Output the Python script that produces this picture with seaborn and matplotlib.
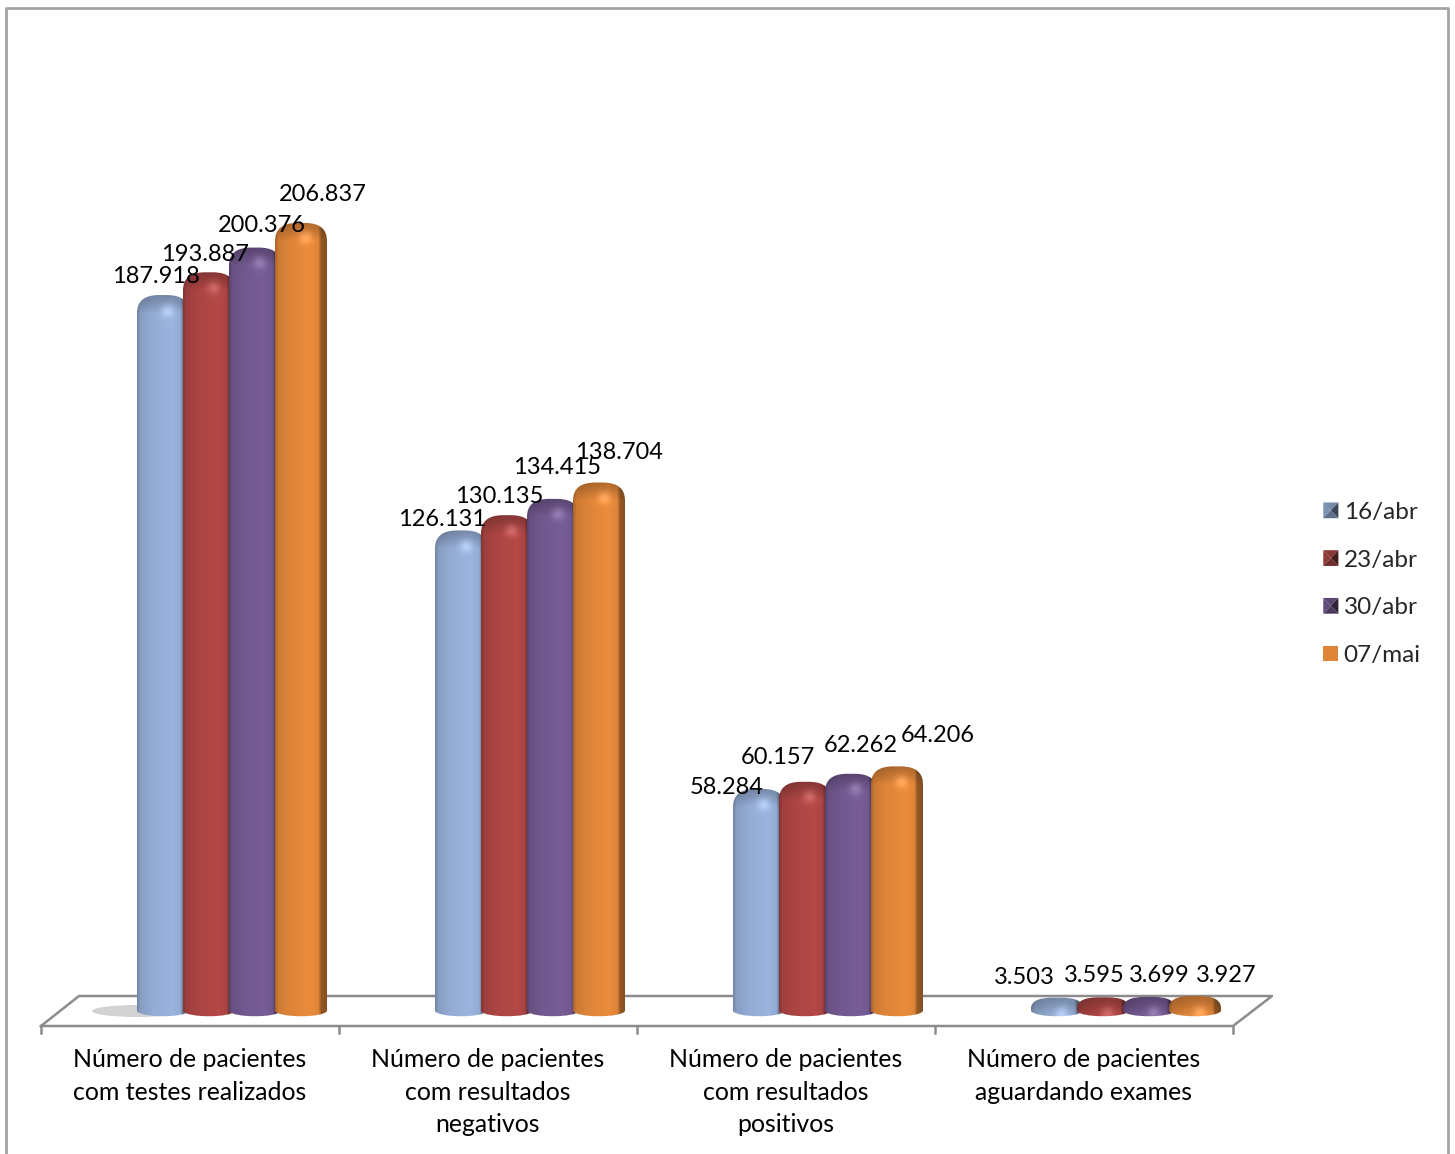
import numpy as np
import pandas as pd
import matplotlib
matplotlib.use('Agg')
import matplotlib.pyplot as plt
import seaborn as sns
from matplotlib.patches import Patch, PathPatch, Polygon, Ellipse
from matplotlib.path import Path
from matplotlib.legend_handler import HandlerBase

categories = ['Número de pacientes\ncom testes realizados',
              'Número de pacientes\ncom resultados\nnegativos',
              'Número de pacientes\ncom resultados\npositivos',
              'Número de pacientes\naguardando exames']
dates = ['16/abr', '23/abr', '30/abr', '07/mai']
v_16abr = [187918, 126131, 58284, 3503]
v_23abr = [193887, 130135, 60157, 3595]
v_30abr = [200376, 134415, 62262, 3699]
v_07mai = [206837, 138704, 64206, 3927]

colors = ['#94acd4', '#ab4543', '#72588f', '#df8539']

# centro dos rotulos em pixels da imagem (posicao manual, como no original)
label_px = [[(156, 276), (442, 519), (727, 787), (1024, 978)],
            [(205, 254), (499, 496), (778, 758), (1094, 975)],
            [(262, 225), (557, 468), (861, 745), (1159, 975)],
            [(323, 194), (619, 452), (938, 735), (1226, 976)]]

W, H = 1455, 1154
BASE, SCALE, X0, STEP = 1011, 0.00381, 229, 298
FS_VAL = 17
FS_CAT = 17.9
FS_LEG = 17.5


def dx(p):
    return (p - X0) / STEP


def dy(p):
    return (BASE - p) / SCALE


def line(ax, xs, ys, color='#8c8c8c', lw=1.8, z=1):
    ax.plot([dx(p) for p in xs], [dy(p) for p in ys], color=color, lw=lw, zorder=z,
            solid_capstyle='projecting')


def to_rgb(c):
    return np.array(matplotlib.colors.to_rgb(c))


def cylinder(ax, bar, color, z):
    # troca a barra reta do seaborn por um cilindro com topo arredondado
    x0 = bar.get_x()
    x1 = x0 + bar.get_width() + 6 / STEP
    top = bar.get_height()
    hpx = top * SCALE
    rx = 22 / STEP
    ry = dy(BASE - min(18, max(hpx * 0.8, 10)))
    drop = dy(BASE - 7)
    verts = [(x0, 0), (x0, top - ry), (x0, top), (x0 + rx, top), (x1 - rx, top), (x1, top),
             (x1, top - ry), (x1, 0), ((x0 + x1) / 2 + rx, -drop), ((x0 + x1) / 2 - rx, -drop),
             (x0, 0), (x0, 0)]
    codes = [Path.MOVETO, Path.LINETO, Path.CURVE3, Path.CURVE3, Path.LINETO, Path.CURVE3,
             Path.CURVE3, Path.LINETO, Path.CURVE4, Path.CURVE4, Path.CURVE4, Path.CLOSEPOLY]
    clip = PathPatch(Path(verts, codes), fc='none', ec='none', zorder=z)
    ax.add_patch(clip)

    ny = max(int(hpx) + 7, 2)
    nx = 52
    fx = np.linspace(0, 1, nx)
    prof = np.interp(fx, [0, 0.06, 0.3, 0.68, 0.84, 0.9, 1], [0.78, 0.92, 1.0, 1.05, 1.0, 0.66, 0.6])
    ypx = np.arange(ny)[:, None]
    cap = np.interp(ypx, [0, 7, 18], [0.76, 0.84, 1.0])
    img = prof[None, :] * cap
    img = img[:, :, None] * to_rgb(color)
    glow = 0.14 * np.exp(-((np.arange(nx) - 30) ** 2) / 40.0)[None, :] * np.exp(-((ypx - 15) ** 2) / 40.0)
    img = np.clip(img + glow[:, :, None], 0, 1)
    im = ax.imshow(img, extent=(x0, x1, -drop, top), aspect='auto', zorder=z, interpolation='bilinear')
    im.set_clip_path(clip)


class BevelHandler(HandlerBase):
    def create_artists(self, legend, orig, xd, yd, width, height, fontsize, trans):
        x0, y0, x1, y1 = -xd, -yd, width - xd, height - yd
        c = to_rgb(orig.get_facecolor()[:3])
        if orig.get_label() == 'flat':
            tri = [([(x0, y0), (x1, y0), (x1, y1), (x0, y1)], 1.0)]
        else:
            m = ((x0 + x1) / 2, (y0 + y1) / 2)
            tri = [([(x0, y0), m, (x0, y1)], 0.85), ([(x0, y1), m, (x1, y1)], 0.8),
                   ([(x1, y1), m, (x1, y0)], 0.4), ([(x1, y0), m, (x0, y0)], 0.65)]
        return [Polygon(p, closed=True, fc=np.clip(c * f, 0, 1), ec='none', transform=trans) for p, f in tri]


df = pd.DataFrame({'categoria': categories * 4,
                   'data': np.repeat(dates, 4),
                   'valor': v_16abr + v_23abr + v_30abr + v_07mai})

sns.set_theme(style='white')
plt.rcParams['font.family'] = ['Lato', 'DejaVu Sans']

fig = plt.figure(figsize=(W / 100, H / 100), dpi=100)
ax = fig.add_axes([0, 0, 1, 1])
sns.barplot(data=df, x='categoria', y='valor', hue='data', hue_order=dates, palette=colors,
            width=184 / STEP, saturation=1, legend=False, ax=ax)

# chao do grafico 3D e moldura
line(ax, [41, 79, 1272, 1233, 41], [1026, 996, 996, 1026, 1026])
for i in range(5):
    line(ax, [41 + i * STEP] * 2, [1026, 1033])
line(ax, [6, 6, 1448, 1448], [1154, 8, 8, 1154], color='#a3a3a3', lw=2)

ax.add_patch(Ellipse((dx(137), dy(1011)), 90 / STEP, 12 / SCALE, fc='#d2d2d2', ec='none', zorder=2))

z = 3
for g in range(4):
    bars = sorted([c[g] for c in ax.containers], key=lambda b: b.get_x())
    for s, bar in enumerate(bars):
        cylinder(ax, bar, colors[s], z)
        bar.set_visible(False)
        z += 1

series = [v_16abr, v_23abr, v_30abr, v_07mai]
for s, vals in enumerate(series):
    for g, v in enumerate(vals):
        x, y = label_px[s][g]
        ax.text(dx(x), dy(y), f'{v:,}'.replace(',', '.'), ha='center', va='center',
                fontsize=FS_VAL, color='black', zorder=50)

for i, name in enumerate(categories):
    ax.text(dx(189.5 + i * STEP), dy(1048), name, ha='center', va='top', fontsize=FS_CAT,
            color='black', linespacing=1.5, zorder=50)

handles = [Patch(facecolor=c, label='flat' if d == '07/mai' else d) for c, d in zip(colors, dates)]
leg = ax.legend(handles, dates, handler_map={Patch: BevelHandler()}, frameon=False, fontsize=FS_LEG,
                loc='center left', bbox_to_anchor=(1316 / W, 1 - 584 / H), labelspacing=1.1,
                handlelength=0.62, handleheight=0.62, handletextpad=0.22, borderaxespad=0, borderpad=0.3)

ax.set_xlim(dx(0), dx(W))
ax.set_ylim(dy(H), dy(0))
ax.axis('off')
fig.savefig('out.png', dpi=100, facecolor='white')
